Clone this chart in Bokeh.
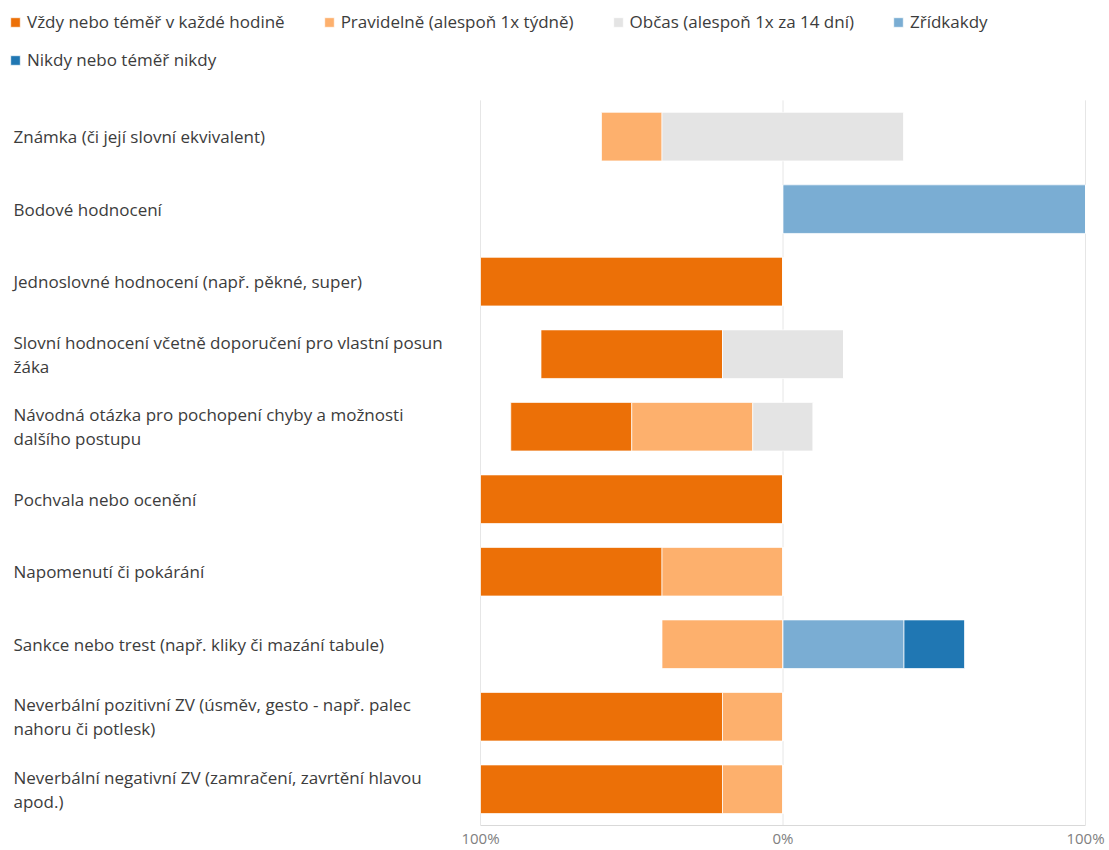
import numpy as np
from bokeh.plotting import figure
from bokeh.models import Range1d, FixedTicker, Legend, LegendItem, ColumnDataSource
from bokeh.core.properties import value
from bokeh.embed import file_html
from bokeh.resources import INLINE

categories = [
    "Známka (či její slovní ekvivalent)",
    "Bodové hodnocení",
    "Jednoslovné hodnocení (např. pěkné, super)",
    "Slovní hodnocení včetně doporučení pro vlastní posun\nžáka",
    "Návodná otázka pro pochopení chyby a možnosti\ndalšího postupu",
    "Pochvala nebo ocenění",
    "Napomenutí či pokárání",
    "Sankce nebo trest (např. kliky či mazání tabule)",
    "Neverbální pozitivní ZV (úsměv, gesto - např. palec\nnahoru či potlesk)",
    "Neverbální negativní ZV (zamračení, zavrtění hlavou\napod.)",
]
series = [
    "Vždy nebo téměř v každé hodině",
    "Pravidelně (alespoň 1x týdně)",
    "Občas (alespoň 1x za 14 dní)",
    "Zřídkakdy",
    "Nikdy nebo téměř nikdy",
]
vzdy = [0, 0, 100, 60, 40, 100, 60, 0, 80, 80]
pravidelne = [20, 0, 0, 0, 40, 0, 40, 40, 20, 20]
obcas = [80, 0, 0, 40, 20, 0, 0, 0, 0, 0]
zridkakdy = [0, 100, 0, 0, 0, 0, 0, 40, 0, 0]
nikdy = [0, 0, 0, 0, 0, 0, 0, 20, 0, 0]
tick_values = [-100, 0, 100]
tick_labels = ["100%", "0%", "100%"]

colors = ["#EC7007", "#FDB06D", "#E4E4E4", "#7AADD3", "#2077B3"]

FONT = "Open Sans"
TEXT_COLOR = "#3C3C3C"

# ---- layout geometry (pixels) ----
W, H = 1105, 850
RIGHT_BORDER = 18
BOTTOM_BORDER = 24
FRAME_W = W - RIGHT_BORDER
FRAME_H = H - BOTTOM_BORDER
PX_LEFT100 = 480.0
PX_RIGHT100 = 1085.0
xscale = (PX_RIGHT100 - PX_LEFT100) / 200.0
X_START = -100 - PX_LEFT100 / xscale
X_END = X_START + FRAME_W / xscale
ROW_PX = 72.6
TOP_PAD_PX = FRAME_H - ROW_PX * len(categories)
Y_BOTTOM = len(categories) - 0.5
Y_TOP = -0.5 - TOP_PAD_PX / ROW_PX

ypos = np.arange(len(categories), dtype=float)

V = np.array(vzdy, float)
P = np.array(pravidelne, float)
O = np.array(obcas, float)
Z = np.array(zridkakdy, float)
N = np.array(nikdy, float)

v_left = -(V + P + O / 2)
v_right = v_left + V
p_right = v_right + P
o_left = -O / 2
o_right = O / 2
z_right = o_right + Z
n_right = z_right + N

segments = [
    (v_left, v_right),
    (v_right, p_right),
    (o_left, o_right),
    (o_right, z_right),
    (z_right, n_right),
]

p = figure(
    width=W, height=H,
    x_range=Range1d(X_START, X_END),
    y_range=Range1d(Y_BOTTOM, Y_TOP),
    y_axis_location=None,
    output_backend="svg",
    toolbar_location=None,
    min_border_left=0, min_border_right=RIGHT_BORDER,
    min_border_top=0, min_border_bottom=BOTTOM_BORDER,
)
p.outline_line_color = None
p.grid.visible = False

# vertical gridlines only over the bar area
p.segment(x0=tick_values, x1=tick_values, y0=[-0.5] * 3, y1=[Y_BOTTOM] * 3,
          line_color="#E6E6E6", line_width=1)

ax = p.xaxis[0]
ax.ticker = FixedTicker(ticks=tick_values)
ax.major_label_overrides = {t: l for t, l in zip(tick_values, tick_labels)}
ax.bounds = (-100, 100)
ax.axis_line_color = "#D9D9D9"
ax.major_tick_line_color = None
ax.minor_tick_line_color = None
ax.major_tick_out = 0
ax.major_tick_in = 0
ax.minor_tick_out = 0
ax.minor_tick_in = 0
ax.major_label_text_color = "#808080"
ax.major_label_text_font = FONT
ax.major_label_text_font_size = "15px"
ax.major_label_standoff = 2

items = []
for name, color, (l, r) in zip(series, colors, segments):
    src = ColumnDataSource(dict(y=ypos, left=l, right=r))
    rend = p.hbar(y="y", left="left", right="right", height=0.67, source=src,
                  fill_color=color, line_color="white", line_width=0.7)
    items.append(LegendItem(label=name, renderers=[rend]))

p.text(x=[X_START] * len(categories), y=ypos, text=categories,
       x_offset=13, text_align="left", text_baseline="middle",
       text_font=value(FONT), text_font_size="17px", text_color=TEXT_COLOR,
       text_line_height=1.05)

def mk_legend(its, loc):
    return Legend(items=its, orientation="horizontal", location=loc,
                  margin=0, padding=4, spacing=38,
                  glyph_width=12, glyph_height=12, label_standoff=6,
                  label_text_font=FONT, label_text_font_size="17px",
                  label_text_color=TEXT_COLOR, border_line_color=None,
                  background_fill_alpha=0)

leg1 = mk_legend(items[:4], (9, FRAME_H - 34))
leg2 = mk_legend([items[4]], (9, FRAME_H - 72))
p.add_layout(leg1, "center")
p.add_layout(leg2, "center")

open("out.html", "w").write(file_html(p, INLINE))
